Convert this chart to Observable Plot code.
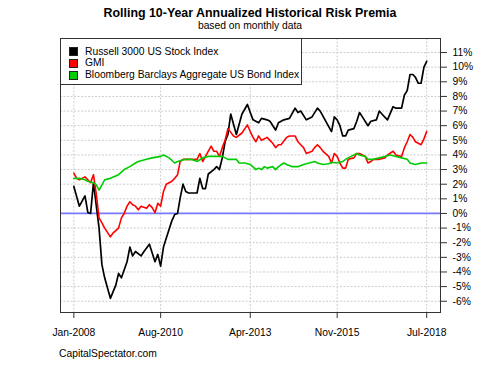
<!DOCTYPE html>
<html>
<head>
<meta charset="utf-8">
<script src="https://cdn.jsdelivr.net/npm/d3@7"></script>
<script src="https://cdn.jsdelivr.net/npm/@observablehq/plot@0.6"></script>
<style>
  html, body { margin: 0; padding: 0; background: #fff; }
  #wrap { position: relative; width: 500px; height: 375px; font-family: "Liberation Sans", Arial, sans-serif; color: #000; overflow: hidden; }
  #wrap svg { position: absolute; left: 0; top: 0; }
  .txt { position: absolute; line-height: 1; white-space: nowrap; }
  #title { left: 0; width: 500px; text-align: center; top: 7.4px; font-weight: bold; font-size: 12.4px; }
  #subtitle { left: 0; width: 500px; text-align: center; top: 20.6px; font-size: 10.3px; }
  #caption { left: 59px; top: 348.7px; font-size: 10.3px; }
  #legend { position: absolute; left: 60px; top: 38px; width: 242px; height: 47px; box-sizing: border-box; border: 1px solid #333; background: #fff; }
  .sw { position: absolute; width: 7px; height: 7px; border: 1px solid #222; box-sizing: content-box; }
  .lt { position: absolute; font-size: 10.3px; line-height: 1; white-space: nowrap; }
</style>
</head>
<body>
<div id="wrap">
  <div id="title" class="txt">Rolling 10-Year Annualized Historical Risk Premia</div>
  <div id="subtitle" class="txt">based on monthly data</div>
  <div id="chart"></div>
  <div id="legend"></div>
  <div id="caption" class="txt">CapitalSpectator.com</div>
</div>
<script>
// ---- Data (% values) ----
const seriesNames = ["Russell 3000 US Stock Index", "GMI", "Bloomberg Barclays Aggregate US Bond Index"];
const seriesColors = ["#000000", "#ff0000", "#00cd00"];

const russellDates = ["2008-01","2008-03","2008-05","2008-06","2008-07","2008-08","2008-10","2008-11","2008-12",
  "2009-02","2009-04","2009-05","2009-06","2009-08","2009-09","2009-10","2009-11",
  "2010-01","2010-02","2010-04","2010-06","2010-07","2010-08","2010-09","2010-10","2010-12",
  "2011-01","2011-02","2011-03","2011-04","2011-05","2011-06","2011-09","2011-10","2011-11","2011-12",
  "2012-01","2012-03","2012-04","2012-05","2012-06","2012-07","2012-08","2012-09","2012-10","2012-11","2012-12",
  "2013-01","2013-03","2013-04","2013-05","2013-07","2013-08","2013-10","2013-11",
  "2014-01","2014-02","2014-04","2014-06","2014-08","2014-09","2014-10","2014-12",
  "2015-02","2015-04","2015-05","2015-07","2015-09","2015-10","2015-11","2015-12",
  "2016-01","2016-02","2016-03","2016-05","2016-06","2016-07","2016-08","2016-10","2016-11",
  "2017-01","2017-02","2017-03","2017-05","2017-07","2017-08","2017-10","2017-11","2017-12",
  "2018-01","2018-02","2018-03","2018-04","2018-05","2018-06","2018-07"];
const russellValues = [1.85,0.5,1.2,0.07,0.0,2.1,-1.0,-3.5,-4.4,
  -5.8,-4.9,-4.1,-4.4,-3.3,-2.3,-2.9,-2.6,
  -2.9,-2.6,-2.1,-3.3,-2.8,-3.6,-2.3,-1.7,-0.5,
  -0.07,0.0,1.05,2.0,1.5,1.4,1.4,2.4,1.7,1.7,
  2.7,3.0,3.2,3.0,3.8,4.9,5.4,6.8,6.1,5.4,6.1,
  6.8,7.45,6.9,6.4,6.2,6.5,6.4,6.3,
  5.7,6.2,6.4,6.5,7.2,6.9,7.0,6.4,
  6.6,7.2,7.0,6.3,5.6,6.6,6.4,6.0,
  5.3,5.3,5.7,5.8,6.3,6.9,6.6,6.0,6.3,
  6.4,7.0,6.8,6.4,7.3,7.2,7.2,8.1,8.4,
  9.5,9.5,9.3,8.9,8.9,10.0,10.4];

const gmiDates = ["2008-01","2008-02","2008-03","2008-05","2008-06","2008-07","2008-08","2008-09","2008-10","2008-11","2008-12",
  "2009-02","2009-03","2009-05","2009-06","2009-07","2009-08","2009-09","2009-10","2009-11","2009-12",
  "2010-01","2010-03","2010-04","2010-05","2010-06","2010-07","2010-08","2010-09","2010-10","2010-12",
  "2011-01","2011-02","2011-03","2011-04","2011-06","2011-09","2011-10","2011-11","2011-12",
  "2012-02","2012-03","2012-04","2012-05","2012-06","2012-07","2012-08","2012-10","2012-11",
  "2013-01","2013-02","2013-03","2013-04","2013-05","2013-06","2013-07","2013-08","2013-10","2013-11","2013-12",
  "2014-01","2014-02","2014-03","2014-05","2014-06","2014-08","2014-09","2014-10","2014-11","2014-12",
  "2015-02","2015-03","2015-04","2015-05","2015-06","2015-08","2015-09","2015-10","2015-11","2015-12",
  "2016-01","2016-02","2016-03","2016-05","2016-06","2016-07","2016-09","2016-10","2016-11","2016-12",
  "2017-02","2017-04","2017-05","2017-07","2017-08","2017-10","2017-11","2017-12",
  "2018-01","2018-02","2018-03","2018-05","2018-06","2018-07"];
const gmiValues = [2.75,2.4,2.3,2.5,2.3,2.1,2.65,1.3,-0.3,-0.65,-1.0,
  -1.6,-1.35,-1.0,-0.3,0.0,0.5,0.8,0.6,0.5,0.25,
  0.5,0.35,0.6,0.4,0.05,0.7,0.5,1.5,2.0,2.2,
  2.4,2.65,3.55,3.7,3.7,3.7,4.1,3.55,3.9,
  4.6,4.25,4.25,3.9,4.5,5.0,5.8,5.3,5.2,
  5.5,5.8,6.05,5.6,5.2,4.9,5.3,5.0,5.2,5.0,4.8,
  4.5,4.7,4.7,5.2,5.3,5.3,4.9,4.7,4.5,4.1,
  4.25,4.5,4.7,4.5,4.25,3.9,3.45,4.1,3.9,3.45,
  3.1,3.1,3.7,3.8,4.1,4.1,3.9,3.45,3.55,3.7,
  3.7,3.8,4.0,4.25,4.0,3.9,4.5,4.9,
  5.4,5.2,4.9,4.7,5.1,5.6];

const bondDates = ["2008-01","2008-03","2008-05","2008-06","2008-08","2008-09","2008-10","2008-11","2008-12",
  "2009-02","2009-05","2009-07","2009-09","2009-11","2009-12",
  "2010-03","2010-05","2010-08","2010-09","2010-11",
  "2011-01","2011-02","2011-05","2011-07","2011-09","2011-11",
  "2012-01","2012-04","2012-06","2012-08","2012-11","2012-12",
  "2013-02","2013-04","2013-06","2013-07","2013-08","2013-09","2013-10","2013-12",
  "2014-01","2014-02","2014-04","2014-05","2014-07","2014-09","2014-11",
  "2015-01","2015-03","2015-04","2015-06","2015-08","2015-09","2015-11",
  "2016-01","2016-02","2016-03","2016-04","2016-06","2016-07","2016-09","2016-10","2016-12",
  "2017-02","2017-04","2017-06","2017-08","2017-10","2017-12",
  "2018-01","2018-03","2018-05","2018-07"];
const bondValues = [2.4,2.4,2.3,2.2,2.1,1.95,1.6,1.95,2.3,
  2.4,2.65,3.0,3.2,3.45,3.55,
  3.7,3.8,3.9,4.0,3.8,
  3.45,3.55,3.7,3.7,3.55,3.8,
  3.9,3.9,3.9,3.7,3.7,3.45,
  3.45,3.35,3.0,3.1,3.0,3.2,3.1,3.2,
  3.0,3.2,3.45,3.35,3.2,3.2,3.35,
  3.45,3.55,3.45,3.35,3.4,3.5,3.45,
  3.55,3.7,3.8,3.9,4.1,4.0,3.9,3.7,3.7,
  3.8,3.9,4.0,3.9,3.8,3.7,
  3.45,3.35,3.45,3.45];

const xTickDates = ["2008-01","2010-08","2013-04","2015-11","2018-07"];
const xTickLabels = ["Jan-2008","Aug-2010","Apr-2013","Nov-2015","Jul-2018"];
const yTickValues = [-6,-5,-4,-3,-2,-1,0,1,2,3,4,5,6,7,8,9,10,11];

// ---- Build tables ----
const parse = d3.utcParse("%Y-%m");
function table(dates, values, name) {
  return dates.map((d, i) => ({date: parse(d), value: values[i], series: name}));
}
const russell = table(russellDates, russellValues, seriesNames[0]);
const gmi = table(gmiDates, gmiValues, seriesNames[1]);
const bond = table(bondDates, bondValues, seriesNames[2]);
const xTicks = xTickDates.map(parse);
const labelMap = new Map(xTicks.map((d, i) => [+d, xTickLabels[i]]));

const gridStyle = {stroke: "#cdcdcd", strokeOpacity: 1, strokeWidth: 1, strokeDasharray: "2,1.5"};

const chart = Plot.plot({
  width: 500,
  height: 375,
  marginTop: 38,
  marginBottom: 63,
  marginLeft: 60,
  marginRight: 60,
  style: {fontFamily: "'Liberation Sans', Arial, sans-serif", fontSize: "10.3px", background: "transparent", color: "#000", overflow: "visible"},
  x: {type: "utc", domain: [new Date(Date.UTC(2007, 7, 9)), new Date(Date.UTC(2018, 10, 28))]},
  y: {domain: [-6.77, 11.96]},
  marks: [
    Plot.gridY(yTickValues, gridStyle),
    Plot.gridX(xTicks, gridStyle),
    Plot.ruleY([0], {stroke: "#7878ff", strokeWidth: 1.8}),
    Plot.line(russell, {x: "date", y: "value", stroke: seriesColors[0], strokeWidth: 1.7}),
    Plot.line(gmi, {x: "date", y: "value", stroke: seriesColors[1], strokeWidth: 1.6}),
    Plot.line(bond, {x: "date", y: "value", stroke: seriesColors[2], strokeWidth: 1.6}),
    Plot.frame({stroke: "#333"}),
    Plot.axisY(yTickValues, {anchor: "right", tickSize: 6, tickPadding: 6, tickFormat: d => d + "%", label: null, stroke: "#333"}),
    Plot.axisX(xTicks, {anchor: "bottom", tickSize: 6, tickPadding: 10, tickFormat: d => labelMap.get(+d), label: null, stroke: "#333"})
  ]
});
document.getElementById("chart").appendChild(chart);

// ---- Legend ----
const legend = document.getElementById("legend");
seriesNames.forEach((name, i) => {
  const rowCenter = 12.7 + i * 11.7;
  const sw = document.createElement("div");
  sw.className = "sw";
  sw.style.left = "8px";
  sw.style.top = (rowCenter - 4.5) + "px";
  sw.style.background = seriesColors[i];
  legend.appendChild(sw);
  const t = document.createElement("div");
  t.className = "lt";
  t.style.left = "24px";
  t.style.top = (rowCenter + 3.8 - 8.72) + "px";
  t.textContent = name;
  legend.appendChild(t);
});
</script>
</body>
</html>
